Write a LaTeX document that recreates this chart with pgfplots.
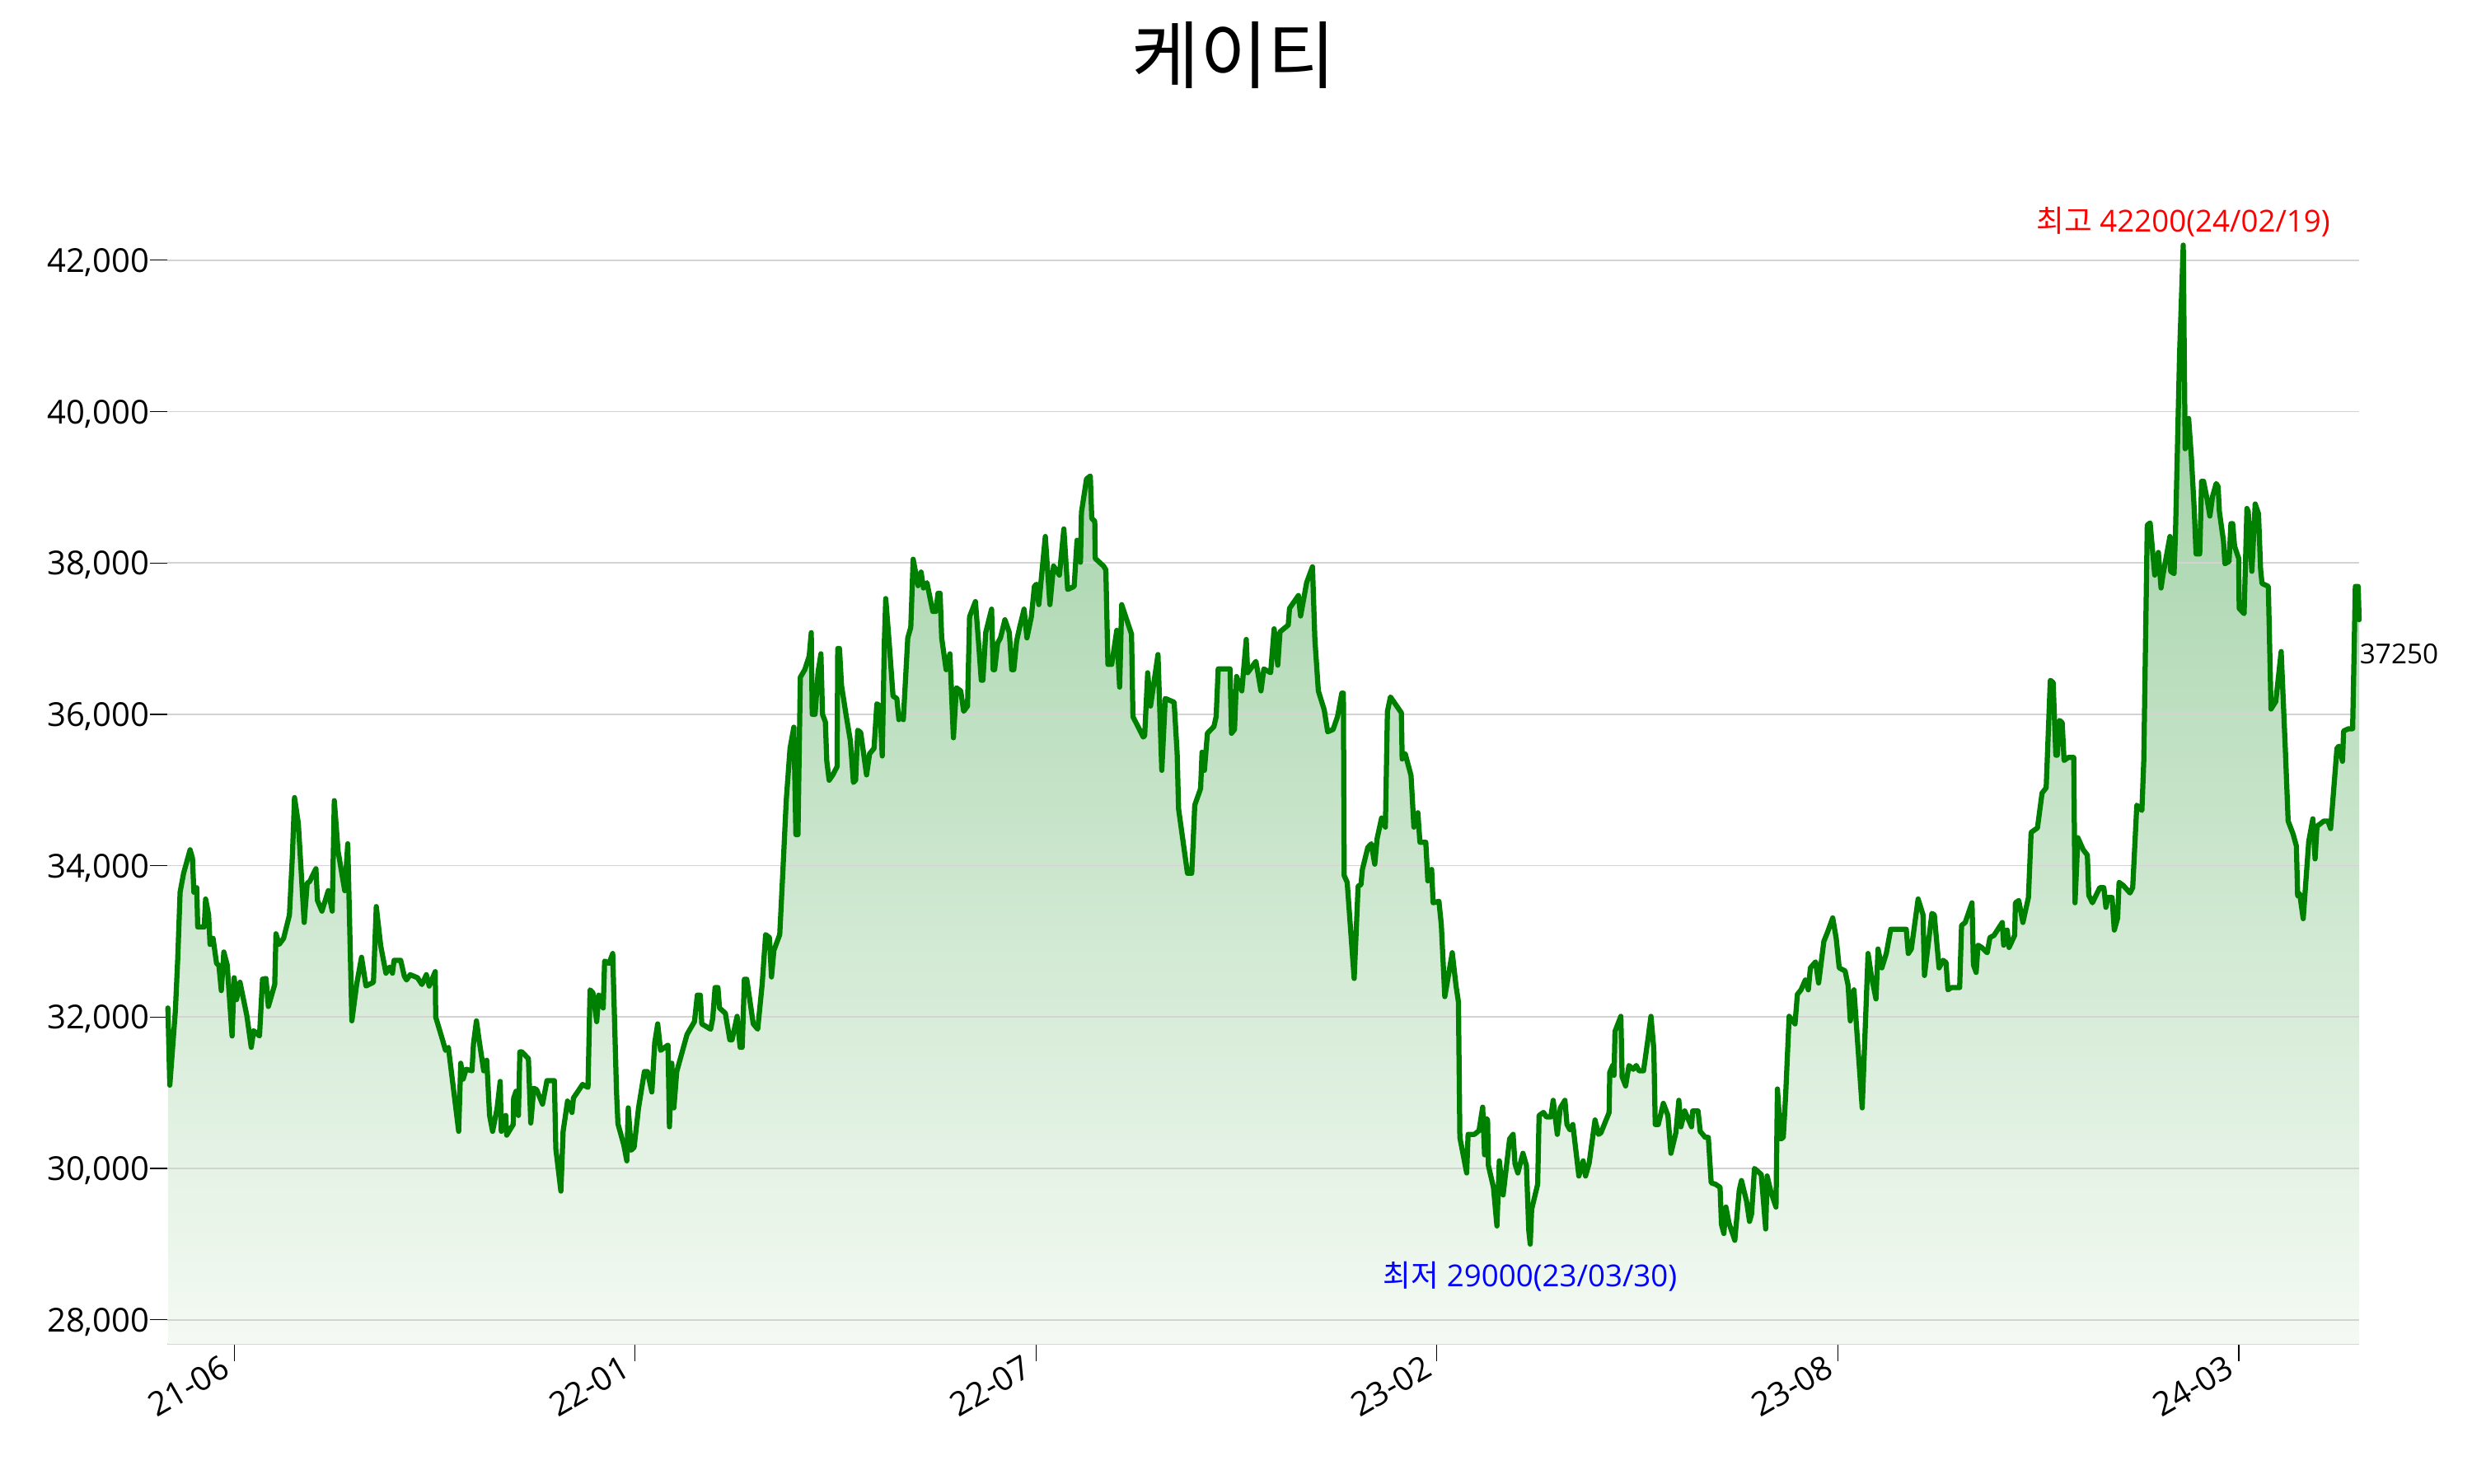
\documentclass[border=0pt]{standalone}
\usepackage{pgfplots}
\usepackage{pgfplotstable}
\pgfplotsset{compat=1.18}
\usepackage{fontspec}
\setmainfont{Open Sans}
\newfontfamily\cjk{Noto Sans CJK KR}
\definecolor{ktgreen}{RGB}{0,128,0}
\definecolor{filltop}{RGB}{150,204,156}
\definecolor{fillbot}{RGB}{244,250,243}
\definecolor{gridgray}{RGB}{211,211,211}

\pgfplotstableread{
x v
106.0 32120
107.2 31100
110.7 32080
112.2 32770
113.7 33650
115.9 33900
120.0 34210
121.5 34100
122.4 33650
124.2 33710
124.8 33190
128.9 33190
129.8 33560
131.7 33350
132.6 32960
134.5 33040
136.7 32710
138.2 32680
139.7 32350
141.3 32860
143.4 32690
146.5 31750
147.8 32520
149.3 32230
151.5 32460
155.8 32020
158.6 31600
160.1 31820
163.8 31750
165.7 32500
167.9 32510
169.4 32140
173.4 32430
174.2 33100
176.2 32960
179.0 33040
182.7 33350
184.6 34150
185.9 34900
188.3 34560
192.0 33250
193.9 33770
195.4 33790
199.4 33960
200.4 33540
203.2 33400
207.2 33670
209.7 33400
211.0 34860
213.4 34190
217.6 33670
219.5 34290
222.1 31950
225.1 32430
228.2 32790
231.0 32410
235.7 32460
237.5 33460
240.3 32940
243.6 32580
245.9 32660
247.7 32580
248.7 32750
252.9 32750
255.2 32540
256.6 32490
258.9 32560
263.5 32520
266.3 32430
269.1 32560
270.9 32410
274.7 32600
275.0 32000
279.3 31700
281.2 31560
283.0 31600
289.5 30490
290.8 31390
292.3 31180
294.2 31310
297.9 31290
298.8 31640
300.7 31950
302.5 31680
305.3 31290
307.2 31430
309.0 30700
310.9 30490
313.7 30790
315.7 31150
316.4 30490
319.2 30700
319.8 30440
323.9 30580
324.2 30930
325.7 31020
327.2 30700
328.1 31540
329.4 31540
333.5 31450
335.0 30600
336.9 31060
338.7 31040
342.4 30850
345.2 31160
349.9 31160
350.8 30260
354.0 29700
355.4 30490
358.2 30890
361.0 30740
361.9 30930
367.7 31110
371.1 31070
372.4 32360
374.2 32320
376.6 31940
377.9 32290
380.7 32120
381.6 32740
384.4 32710
386.7 32840
389.1 31010
390.0 30590
393.7 30310
395.6 30100
396.5 30800
398.4 30240
400.2 30280
403.0 30800
406.7 31280
408.6 31280
411.4 31010
413.2 31660
415.1 31910
416.9 31560
421.6 31630
422.5 30550
424.0 31390
425.3 30800
427.1 31280
433.6 31770
435.5 31840
438.3 31940
440.1 32290
442.0 32290
442.9 31910
448.5 31840
449.8 31980
451.3 32390
453.1 32390
454.1 32120
457.8 32050
460.6 31700
462.0 31700
465.2 32010
467.1 31600
468.4 31600
469.8 32500
471.3 32500
475.4 31910
478.2 31840
481.0 32430
483.2 33090
485.6 33050
486.9 32530
488.4 32880
492.1 33090
494.0 33890
496.2 34860
498.6 35550
501.0 35830
502.3 34410
503.6 34410
505.1 36490
507.9 36590
510.7 36770
512.0 37080
512.6 36000
514.4 36000
516.3 36560
518.1 36800
519.1 36000
520.9 35900
521.8 35380
523.3 35130
525.6 35200
528.3 35310
528.7 36870
529.8 36870
531.1 36380
533.9 36000
536.7 35650
538.6 35100
540.0 35130
541.3 35790
543.2 35760
546.9 35200
548.8 35480
551.6 35550
553.4 36140
555.3 36110
556.8 35450
558.1 36940
559.0 37530
561.2 36940
563.6 36240
566.0 36210
567.3 35930
569.2 36000
570.1 35930
572.9 37010
574.8 37150
576.3 38050
579.4 37700
581.3 37880
582.8 37670
585.0 37740
588.7 37360
590.6 37360
592.0 37600
593.3 37600
594.3 37010
597.1 36590
599.5 36800
601.7 35690
603.6 36350
606.3 36310
608.2 36040
610.6 36110
611.9 37290
615.6 37490
617.5 36970
619.3 36450
620.3 36450
622.1 37080
625.8 37390
626.8 36590
627.7 36590
629.6 36940
631.4 37010
634.2 37250
637.0 37080
638.5 36590
639.8 36590
641.6 36970
643.5 37150
646.3 37390
648.1 37010
650.9 37290
652.8 37690
654.1 37720
655.6 37450
659.7 38350
662.6 37450
664.9 37960
668.6 37840
671.4 38450
673.8 37650
677.9 37690
679.7 38300
681.9 38010
682.5 38670
685.7 39110
688.1 39150
689.0 38590
690.9 38550
691.2 38060
696.4 37960
697.9 37910
699.2 36660
701.6 36660
704.8 37110
706.6 36360
707.9 37450
714.1 37060
715.0 35970
721.5 35700
722.4 35720
724.3 36550
726.1 36110
730.8 36790
733.2 35260
735.4 36210
741.0 36160
742.9 35480
743.8 34750
749.4 33900
752.1 33900
754.0 34800
757.7 35020
758.6 35500
760.1 35260
762.0 35750
766.1 35840
767.5 35970
768.8 36600
776.3 36600
777.2 35750
779.1 35800
780.4 36500
783.7 36310
786.5 36990
787.4 36550
792.6 36700
795.8 36310
797.6 36600
801.9 36550
804.1 37130
806.4 36650
807.8 37090
813.0 37180
813.8 37400
819.4 37570
820.8 37300
824.6 37740
828.3 37950
829.8 36990
832.0 36310
835.7 36060
837.9 35770
841.3 35800
844.1 35970
846.8 36280
847.8 36280
848.3 33870
850.2 33780
854.6 32510
857.1 33730
858.9 33750
859.8 33950
863.2 34240
865.4 34290
867.6 34020
869.1 34360
871.9 34630
874.3 34510
875.6 36040
877.5 36230
884.4 36020
884.9 35410
886.8 35480
890.5 35190
892.3 34510
894.8 34700
896.1 34310
899.8 34310
901.1 33800
903.5 33950
904.4 33510
908.1 33530
909.6 33220
911.8 32270
916.5 32850
918.9 32410
920.4 32200
921.3 30410
925.6 29940
926.5 30450
930.5 30450
933.4 30500
935.7 30810
936.9 30180
937.9 30660
938.8 30640
939.3 30040
942.5 29750
944.7 29240
946.2 30100
948.6 29650
952.7 30390
954.9 30450
956.1 30060
957.9 29940
961.1 30200
963.3 30040
964.8 29180
965.7 29000
966.6 29460
970.4 29790
971.3 30700
974.1 30740
975.9 30680
978.7 30680
980.2 30900
982.8 30450
984.7 30800
987.6 30900
988.9 30580
990.8 30510
992.6 30580
996.4 29900
999.1 30100
1000.6 29900
1002.9 30070
1006.6 30640
1008.8 30450
1010.3 30470
1015.5 30740
1015.9 31270
1017.7 31360
1018.6 31230
1019.2 31810
1022.9 32010
1023.7 31210
1025.9 31090
1028.0 31360
1030.7 31310
1032.6 31360
1034.4 31290
1037.2 31290
1040.0 31710
1041.9 32010
1043.7 31580
1044.6 30580
1046.5 30580
1049.7 30860
1052.6 30700
1054.5 30200
1057.6 30470
1059.5 30900
1060.8 30550
1063.2 30760
1067.5 30550
1068.2 30760
1071.6 30760
1073.0 30490
1076.2 30410
1078.1 30410
1079.9 29810
1082.7 29790
1085.5 29750
1086.4 29260
1087.9 29140
1089.2 29490
1091.1 29280
1094.8 29050
1097.6 29710
1099.0 29840
1102.2 29570
1104.1 29300
1105.4 29400
1107.2 30000
1111.5 29920
1114.3 29200
1115.2 29900
1117.6 29690
1120.8 29490
1121.7 31050
1123.9 30390
1125.4 30410
1126.9 30970
1129.1 32010
1132.8 31910
1134.3 32300
1136.6 32360
1139.3 32490
1141.2 32360
1142.5 32650
1145.8 32730
1147.7 32450
1151.0 33000
1153.3 33120
1156.6 33310
1158.8 33040
1160.7 32650
1164.4 32610
1166.3 32420
1167.7 31950
1170.0 32360
1175.2 30800
1178.9 32840
1181.1 32530
1183.9 32240
1185.2 32900
1187.6 32650
1190.4 32840
1193.2 33160
1195.0 33160
1203.0 33160
1204.3 32840
1206.2 32900
1210.5 33560
1213.6 33350
1214.5 32550
1219.2 33370
1220.7 33350
1223.7 32650
1226.3 32750
1228.1 32720
1229.3 32360
1231.5 32390
1236.7 32390
1237.9 33210
1240.2 33250
1244.5 33510
1245.4 32690
1247.1 32590
1248.3 32950
1250.6 32920
1254.1 32850
1255.8 33050
1258.4 33080
1263.6 33250
1264.5 32950
1266.7 33150
1267.9 32920
1271.4 33080
1271.9 33510
1274.0 33540
1276.6 33250
1280.1 33580
1281.8 34440
1285.8 34500
1288.7 34960
1291.3 35030
1293.9 36450
1295.7 36420
1297.4 35460
1298.3 35460
1299.7 35920
1301.4 35890
1302.6 35390
1305.2 35430
1308.7 35430
1309.5 33510
1311.3 34370
1314.7 34210
1317.3 34140
1318.2 33610
1320.5 33510
1325.1 33710
1327.7 33710
1329.0 33450
1330.3 33580
1332.9 33580
1334.3 33150
1336.4 33310
1337.3 33780
1339.9 33740
1344.2 33640
1345.9 33710
1348.5 34800
1351.7 34730
1352.9 35390
1355.1 38500
1356.9 38530
1359.8 37840
1362.1 38140
1363.8 37670
1365.0 37840
1369.4 38350
1369.8 37890
1372.0 37860
1372.9 38390
1375.5 40770
1377.8 42200
1379.0 39510
1379.8 39540
1381.2 39910
1382.9 39410
1384.7 38720
1385.9 38120
1388.2 38120
1389.4 39080
1390.6 39080
1392.8 38850
1394.6 38620
1396.3 38880
1398.6 39050
1399.8 39010
1400.6 38680
1403.2 38290
1404.1 37990
1406.7 38020
1407.9 38520
1409.0 38520
1410.2 38220
1412.8 38060
1413.1 37400
1416.2 37330
1418.0 38720
1418.8 38680
1421.1 37890
1423.2 38780
1425.3 38650
1426.6 37920
1427.5 37730
1431.5 37690
1433.2 36070
1436.2 36170
1439.6 36830
1442.2 35550
1444.0 34590
1447.1 34420
1449.2 34260
1450.0 33600
1451.3 33630
1453.5 33300
1455.2 33800
1457.0 34320
1459.6 34620
1461.0 34090
1462.2 34520
1466.5 34590
1469.1 34590
1470.8 34490
1474.8 35550
1476.0 35580
1478.3 35380
1479.0 35780
1482.1 35810
1484.7 35810
1486.4 37690
1488.2 37690
1488.8 37250
}\kt

\begin{document}
\begin{tikzpicture}[x=1pt,y=1pt]
\path[use as bounding box] (0,0) rectangle (720,432);
\begin{axis}[
  at={(48.72pt,40.56pt)}, anchor=south west,
  scale only axis, width=638.4pt, height=348.7pt,
  xmin=105.6, xmax=1488.8, ymin=27681, ymax=43500,
  clip=false,
  scaled y ticks=false, scaled x ticks=false,
  axis x line*=bottom, axis y line*=left,
  y axis line style={draw=none},
  x axis line style={draw=gridgray, line width=0.7pt, -},
  tick align=outside, major tick length=5pt,
  tick style={black, line width=0.3pt},
  xtick={147.8,400.8,653.8,906.8,1159.8,1412.9},
  xticklabels={21-06,22-01,22-07,23-02,23-08,24-03},
  ytick={28000,30000,32000,34000,36000,38000,40000,42000},
  yticklabels={{28,000},{30,000},{32,000},{34,000},{36,000},{38,000},{40,000},{42,000}},
  yticklabel style={font=\fontsize{9.6}{11}\selectfont, anchor=east, inner sep=0pt, text depth=0pt},
  xticklabel style={font=\fontsize{9.6}{11}\selectfont, xshift=-4.2pt, yshift=2.3pt, rotate=30, anchor=north east, inner sep=0pt},
]
\addplot[draw=none, top color=filltop, bottom color=fillbot] table[x=x,y=v] {\kt}
  -- (axis cs:1488.8,27681) -- (axis cs:106.0,27681) -- cycle;
\pgfplotsinvokeforeach{28000,30000,32000,34000,36000,38000,40000,42000}{
  \addplot[gridgray, line width=0.4pt, forget plot] coordinates {(105.6,#1) (1488.8,#1)};
}
\addplot[ktgreen, line width=1.5pt, line join=round, line cap=round] table[x=x,y=v] {\kt};
\node[anchor=base, inner sep=0pt, text=red, font=\fontsize{8.8}{10}\selectfont, yshift=3.8pt]
  at (axis cs:1377.8,42200) {{\cjk 최고} 42200(24/02/19)};
\node[anchor=base, inner sep=0pt, text=blue, font=\fontsize{8.8}{10}\selectfont, yshift=-12.4pt]
  at (axis cs:965.7,29000) {{\cjk 최저} 29000(23/03/30)};
\node[anchor=base west, inner sep=0pt, font=\fontsize{8}{9}\selectfont, yshift=-12.7pt]
  at (axis cs:1488.8,37250) {37250};
\end{axis}
\node[anchor=base, inner sep=0pt, font=\cjk\fontsize{21.5}{24}\selectfont] at (359.4,407.8) {케이티};
\end{tikzpicture}
\end{document}
